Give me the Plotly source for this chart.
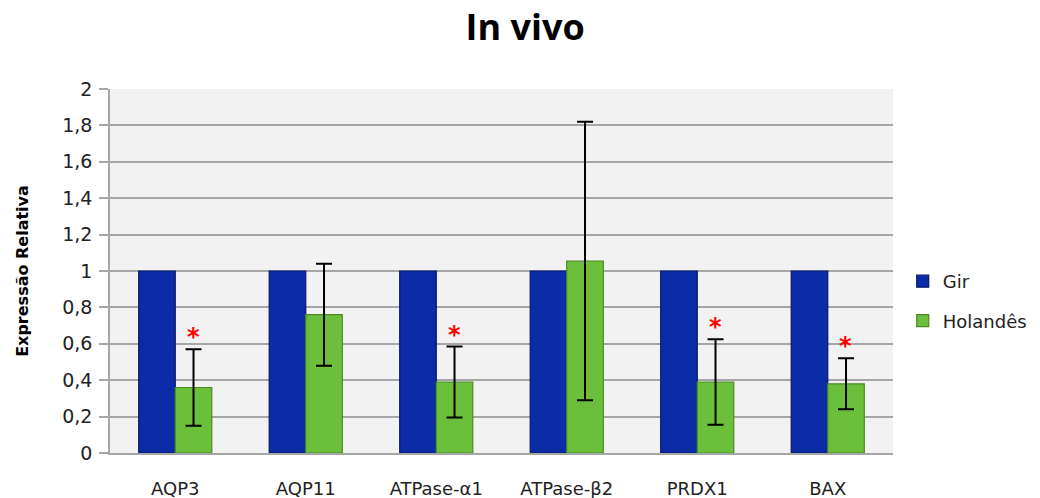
import plotly.graph_objects as go

# Relative expression of genes in vivo: Gir vs Holandês
genes = ["AQP3", "AQP11", "ATPase-α1", "ATPase-β2", "PRDX1", "BAX"]
gir = [1.0, 1.0, 1.0, 1.0, 1.0, 1.0]
holandes = [0.36, 0.76, 0.39, 1.055, 0.39, 0.38]
holandes_err = [0.21, 0.28, 0.195, 0.765, 0.235, 0.14]
significant = [True, False, True, False, True, True]
y_ticks = [0, 0.2, 0.4, 0.6, 0.8, 1, 1.2, 1.4, 1.6, 1.8, 2]
y_tick_text = ["0", "0,2", "0,4", "0,6", "0,8", "1", "1,2", "1,4", "1,6", "1,8", "2"]

fig = go.Figure()
fig.add_trace(go.Bar(
    x=genes, y=gir, name="Gir", legendgroup="g1",
    marker=dict(color="#0B2CA6", line=dict(color="#06186B", width=1.2)),
))
fig.add_trace(go.Bar(
    x=genes, y=holandes, name="Holandês", legendgroup="g2",
    marker=dict(color="#6CBF3A", line=dict(color="#4A8A25", width=1.2)),
    error_y=dict(type="data", array=holandes_err, visible=True,
                 color="#000000", thickness=2, width=8),
))

# significance markers above the Holandês error bars
for g, h, e, s in zip(genes, holandes, holandes_err, significant):
    if s:
        fig.add_annotation(
            x=g, y=h + e, xref="x", yref="y", text="<b>*</b>", showarrow=False,
            xshift=18, yshift=-4, yanchor="bottom",
            font=dict(family="DejaVu Sans", size=24, color="#FF0000"),
        )

fig.update_layout(
    width=1040, height=498,
    margin=dict(l=110, r=147, t=89, b=45, autoexpand=False),
    paper_bgcolor="#FFFFFF", plot_bgcolor="#F2F2F2",
    barmode="group", bargap=0.44, bargroupgap=0,
    title=dict(text="<b>In vivo</b>", x=0.505, xanchor="center", y=0.945, yanchor="middle",
               font=dict(family="Open Sans", size=36, color="#000000")),
    font=dict(family="DejaVu Sans", size=17, color="#222222"),
    legend=dict(xref="container", yref="container", x=0.868, y=0.472,
                xanchor="left", yanchor="top", itemwidth=30,
                tracegroupgap=13, font=dict(size=18, color="#222222"),
                bgcolor="rgba(0,0,0,0)"),
    showlegend=True,
)
fig.update_xaxes(
    showgrid=False, showline=True, linecolor="#A6A6A6", linewidth=1.5,
    ticks="", ticklabelstandoff=19, automargin=False,
    tickfont=dict(size=18, color="#222222"),
)
fig.update_yaxes(
    range=[0, 2], tickvals=y_ticks, ticktext=y_tick_text,
    showgrid=True, gridcolor="#A6A6A6", gridwidth=1.5,
    showline=True, linecolor="#A6A6A6", linewidth=1.5,
    ticks="outside", ticklen=9, tickcolor="#A6A6A6", tickwidth=1.5,
    ticklabelstandoff=3, automargin=False,
    tickfont=dict(size=19, color="#222222"), zeroline=False,
    title=dict(text="<b>Expressão Relativa</b>", standoff=30,
               font=dict(family="DejaVu Sans", size=16, color="#000000")),
)

fig.write_html("out.html")
